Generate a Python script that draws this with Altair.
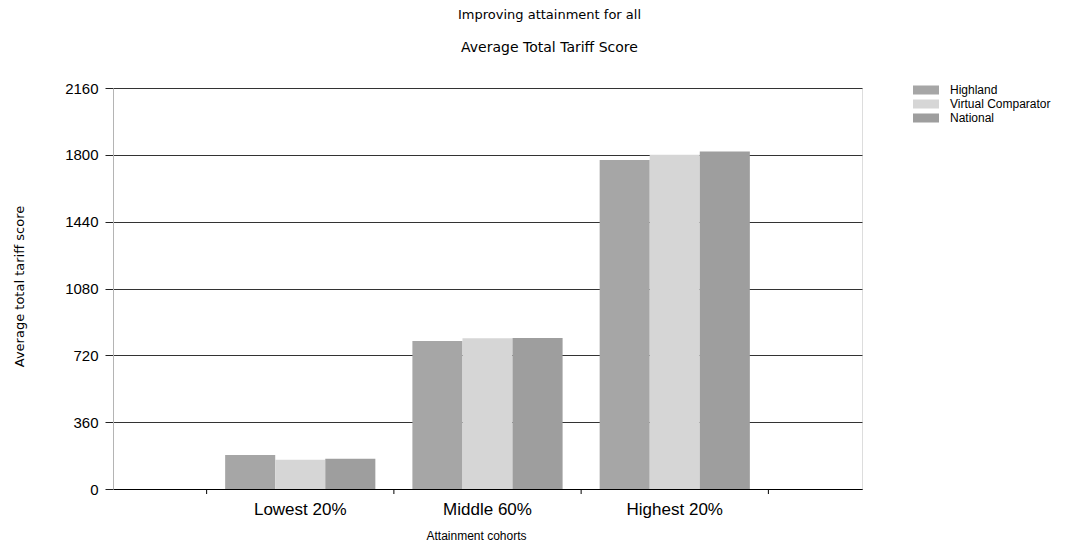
import altair as alt
import pandas as pd

# Chart data
cohorts = ["Lowest 20%", "Middle 60%", "Highest 20%"]
series = ["Highland", "Virtual Comparator", "National"]
highland = [183, 797, 1772]
virtual_comparator = [158, 812, 1800]
national = [163, 814, 1818]
y_ticks = [0, 360, 720, 1080, 1440, 1800, 2160]

# Styling
colors = ["#a6a6a6", "#d6d6d6", "#9e9e9e"]
W, H = 749, 401

rows = []
for name, vals in zip(series, [highland, virtual_comparator, national]):
    for c, v in zip(cohorts, vals):
        rows.append({"cohort": c, "series": name, "score": v})
df = pd.DataFrame(rows)

x_scale = alt.Scale(domain=cohorts, paddingInner=0, paddingOuter=0.5)
x_axis = alt.Axis(
    title="Attainment cohorts",
    titleFont="Liberation Sans",
    titleFontSize=12,
    titleFontWeight="normal",
    titleColor="black",
    titleX=363,
    titleY=46,
    titleBaseline="middle",
    titleAlign="center",
    labelFont="Liberation Sans",
    labelFontSize=17,
    labelColor="black",
    labelAngle=0,
    labelPadding=12,
    ticks=False,
    tickSize=0,
    domainColor="black",
    domainWidth=1,
    grid=False,
)

bars = alt.Chart(df).mark_bar().encode(
    x=alt.X("cohort:N", scale=x_scale, sort=cohorts, axis=x_axis),
    xOffset=alt.XOffset(
        "series:N",
        sort=series,
        scale=alt.Scale(domain=series, paddingInner=0, paddingOuter=0.37),
    ),
    y=alt.Y(
        "score:Q",
        scale=alt.Scale(domain=[0, 2160], nice=False, zero=True),
        axis=alt.Axis(
            values=y_ticks,
            format="d",
            title="Average total tariff score",
            titleFont="DejaVu Sans",
            titleFontSize=13,
            titleFontWeight="normal",
            titleColor="black",
            titleAngle=270,
            titleX=-94,
            titleY=198,
            titleBaseline="middle",
            titleAlign="center",
            labelFont="Liberation Sans",
            labelFontSize=15,
            labelColor="black",
            labelPadding=7,
            tickSize=8,
            tickColor="#222222",
            domainColor="#b4b4b4",
            grid=True,
            gridColor="#333333",
            gridWidth=1,
        ),
    ),
    color=alt.Color(
        "series:N",
        sort=series,
        scale=alt.Scale(domain=series, range=colors),
        legend=alt.Legend(
            title=None,
            orient="none",
            legendX=800,
            legendY=-5,
            padding=0,
            symbolType="M-1,-0.35H1V0.35H-1Z",
            symbolSize=676,
            symbolStrokeWidth=0,
            symbolOpacity=1,
            clipHeight=14,
            rowPadding=0,
            labelOffset=11,
            labelFont="Liberation Sans",
            labelFontSize=12,
            labelColor="black",
        ),
    ),
)

# Category-boundary tick marks under the x axis
edge_df = pd.DataFrame({"cohort": cohorts})
last_df = pd.DataFrame({"cohort": cohorts[-1:]})
left_ticks = alt.Chart(edge_df).mark_rule(color="black", strokeWidth=1).encode(
    x=alt.X("cohort:N", scale=x_scale, sort=cohorts, bandPosition=0, axis=x_axis),
    y=alt.value(H),
    y2=alt.value(H + 5),
)
right_tick = alt.Chart(last_df).mark_rule(color="black", strokeWidth=1).encode(
    x=alt.X("cohort:N", scale=x_scale, sort=cohorts, bandPosition=1, axis=x_axis),
    y=alt.value(H),
    y2=alt.value(H + 5),
)

chart = (
    alt.layer(bars, left_ticks, right_tick)
    .properties(
        width=W,
        height=H,
        title=alt.Title(
            text="Improving attainment for all",
            subtitle="Average Total Tariff Score",
            anchor="middle",
            frame="group",
            dx=62,
            offset=26,
            font="DejaVu Sans",
            fontSize=13,
            fontWeight="normal",
            color="black",
            subtitleFont="DejaVu Sans",
            subtitleFontSize=14,
            subtitleColor="black",
            subtitlePadding=19,
        ),
        autosize=alt.AutoSizeParams(type="none"),
        padding={"left": 113, "top": 88, "right": 224, "bottom": 61},
    )
    .configure_view(strokeWidth=0)
    .configure(background="white")
)

chart.save("out.html", embed_options={"renderer": "svg", "actions": False})
